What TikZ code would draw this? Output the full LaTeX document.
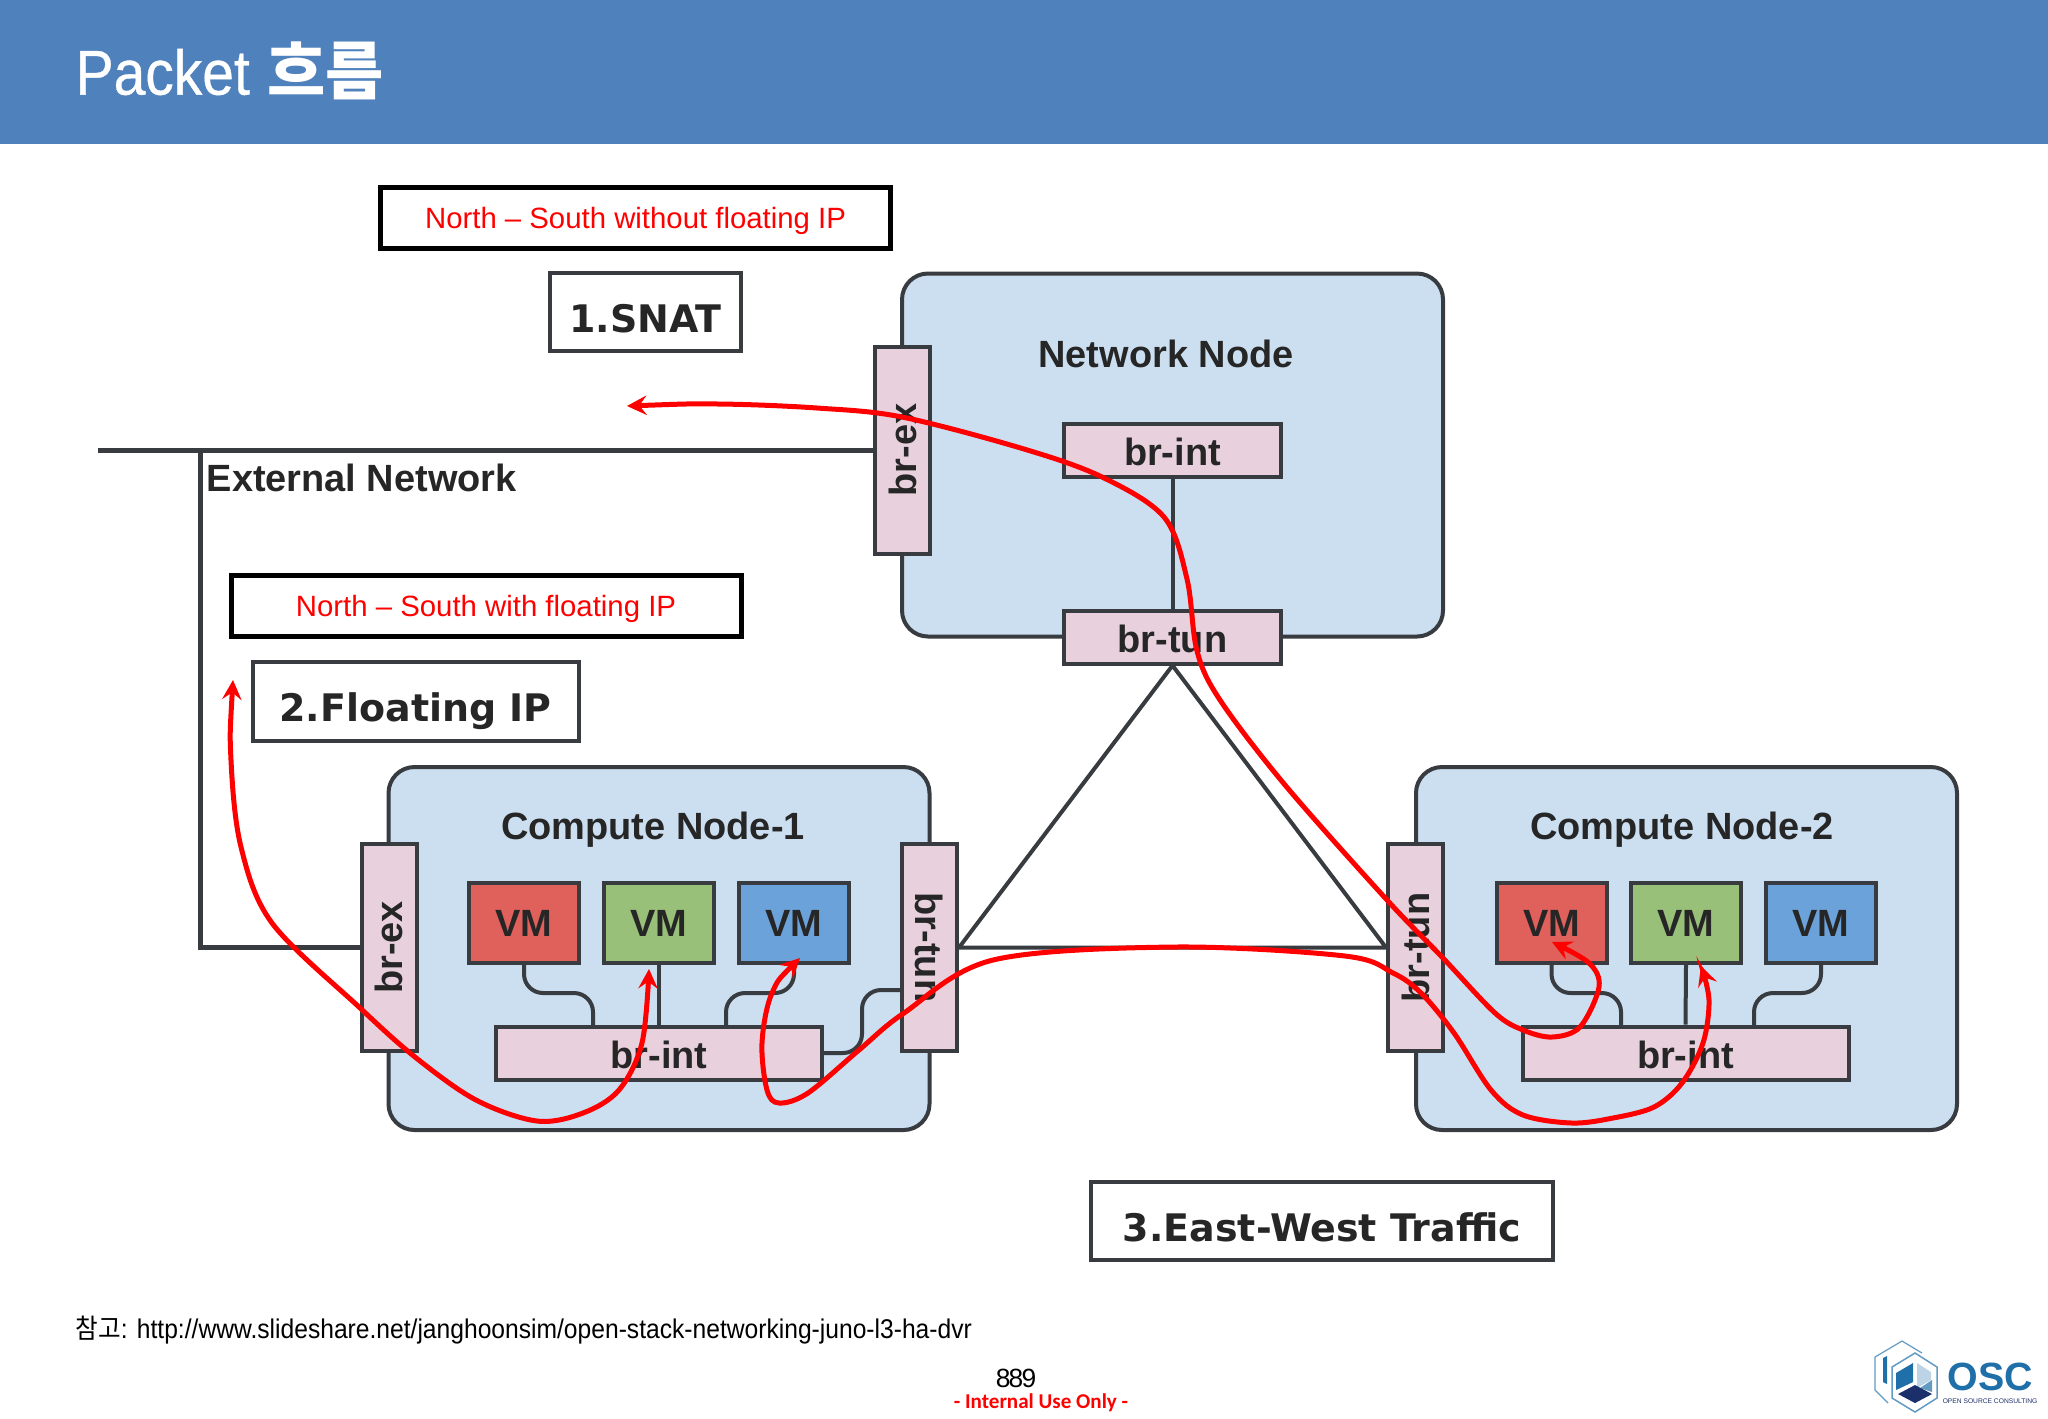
\documentclass[tikz,border=0pt]{standalone}
\usepackage{fontspec}
\setmainfont{Liberation Sans}
\newfontfamily\cjk{Noto Sans CJK KR}
\newfontfamily\slab{DejaVu Sans}
\newfontfamily\carlito{Carlito}
\newfontfamily\headfont{Liberation Sans}[FakeBold=0.6]
\usepackage{graphicx}
\definecolor{headblue}{HTML}{4F81BD}
\definecolor{hostblue}{HTML}{CBDFF1}
\definecolor{brpink}{HTML}{E8D1DD}
\definecolor{linegrey}{HTML}{383C40}
\definecolor{vmred}{HTML}{E0605C}
\definecolor{vmgreen}{HTML}{98C078}
\definecolor{vmblue}{HTML}{6CA2DA}
\definecolor{logoblue}{HTML}{1F6FA8}
\definecolor{logonavy}{HTML}{1B2F6B}
\tikzset{
  host/.style={draw=linegrey,fill=hostblue,line width=0.4mm,rounded corners=2.6mm,inner sep=0pt,minimum width=54.1mm,minimum height=36.3mm},
  bridge/.style={draw=linegrey,fill=brpink,line width=0.4mm,inner sep=0pt,font=\fontsize{10.8}{12}\selectfont\bfseries,text=black!85},
  brh/.style={bridge,minimum width=21.7mm,minimum height=5.3mm,text height=3.05mm,text depth=0pt},
  brl/.style={bridge,minimum width=32.6mm,minimum height=5.3mm,text height=3.05mm,text depth=0pt},
  brv/.style={bridge,minimum width=5.5mm,minimum height=20.7mm},
  vm/.style={draw=linegrey,line width=0.4mm,inner sep=0pt,minimum width=11mm,minimum height=8mm,font=\fontsize{10.8}{12}\selectfont\bfseries,text=black!85},
  title/.style={font=\fontsize{10.8}{12}\selectfont\bfseries,text=black!85},
  note/.style={draw=black,line width=0.5mm,inner sep=0pt,minimum height=6.1mm,minimum width=51mm,text=red,font=\fontsize{8.35}{10}\selectfont,text height=2.8mm,text depth=0.6mm},
  case/.style={draw=linegrey,fill=white,line width=0.4mm,inner sep=0pt,font=\fontsize{10.8}{12}\slab\bfseries,text=black!85,text height=4.6mm,text depth=0.5mm},
  wire/.style={draw=linegrey,line width=0.4mm,rounded corners=1.9mm},
  extwire/.style={draw=linegrey,line width=0.5mm},
  flow/.style={draw=red,line width=0.5mm,stealth-stealth,smooth,tension=0.55}
}
\begin{document}
\begin{tikzpicture}[x=0.1mm,y=-0.1mm]
  \useasboundingbox (0,0) rectangle (2048,1418);
  \node[fill=headblue,inner sep=0pt,minimum width=204.8mm,minimum height=14.4mm] (header) at (1024,72) {};
  \node[anchor=west,inner sep=0pt,text=white,font=\fontsize{18}{20}\selectfont] (headtitle) at (75,71) {\scalebox{0.9}[1]{\headfont Packet} {\cjk\bfseries 흐름}};

  % hosts
  \node[host] (hostN) at (1172.5,455) {};
  \node[host] (hostA) at (659,948.5) {};
  \node[host] (hostB) at (1686.5,948.5) {};

  \node[title] (nameN) at (1166,354) {Network Node};
  \node[title] (nameA) at (653,830) {Compute Node-1};
  \node[title] (nameB) at (1682,830) {Compute Node-2};

  % network node
  \node[brh] (intN) at (1172.5,450.5) {br-int};
  \node[brh] (tunN) at (1172.5,637) {br-tun};
  \node[brv] (exN) at (902.5,450) {\rotatebox{90}{br-ex}};

  % compute node 1
  \node[brv] (exA) at (389,947.5) {\rotatebox{90}{br-ex}};
  \node[brv] (tunA) at (929.5,947.5) {\rotatebox{-90}{br-tun}};
  \node[vm,fill=vmred] (vmAr) at (524,923) {VM};
  \node[vm,fill=vmgreen] (vmAg) at (659,923) {VM};
  \node[vm,fill=vmblue] (vmAb) at (794,923) {VM};
  \node[brl] (intA) at (659,1053) {br-int};

  % compute node 2
  \node[brv] (tunB) at (1415.5,947.5) {\rotatebox{90}{br-tun}};
  \node[vm,fill=vmred] (vmBr) at (1551.5,923) {VM};
  \node[vm,fill=vmgreen] (vmBg) at (1686,923) {VM};
  \node[vm,fill=vmblue] (vmBb) at (1821,923) {VM};
  \node[brl] (intB) at (1685.5,1053) {br-int};

  % texts outside the hosts
  \node[note] (noteS) at (635.5,217.5) {North – South without floating IP};
  \node[note] (noteF) at (486,605.5) {North – South with floating IP};
  \node[case,minimum width=19.1mm,minimum height=7.8mm] (snat) at (645.5,312) {1.SNAT};
  \node[case,minimum width=32.6mm,minimum height=7.9mm] (fip) at (415.5,701) {2.Floating IP};
  \node[case,minimum width=46.2mm,minimum height=7.8mm] (ew) at (1322,1221) {3.East-West Traffic};
  \node[anchor=west,inner sep=0pt,title] (extname) at (206,478) {External Network};

  \coordinate (extL) at (98,450);
  \coordinate (extD) at (200,450);
  \draw[extwire] (extL) -- (exN.west);
  \draw[extwire] (exA.west) -| (extD);
  \draw[wire] (intN.south) -- (tunN.north);
  \draw[wire,rounded corners=0pt,line join=round] (tunN.south) -- (tunA.east) -- (tunB.west) -- cycle;

  % wires in the hosts
  \coordinate (dropAr) at (593,1027);
  \coordinate (dropAb) at (726,1027);
  \coordinate (dropBr) at (1621,1027);
  \coordinate (dropBb) at (1754,1027);
  \coordinate (portA) at (902,990);
  \draw[wire] (vmAr.south) |- (593,993) -- (dropAr);
  \draw[wire] (vmAg.south) -- (intA.north);
  \draw[wire] (vmAb.south) |- (726,993) -- (dropAb);
  \draw[wire] (intA.east) -| (862,990) -- (portA);
  \draw[wire] (vmBr.south) |- (1621,993) -- (dropBr);
  \draw[wire] (vmBg.south) -- (intB.north);
  \draw[wire] (vmBb.south) |- (1754,993) -- (dropBb);

  % packet paths
  \coordinate (snatA) at (627,406);
  \coordinate (snatB) at (1552,942);
  \coordinate (fipA) at (233,680);
  \coordinate (fipB) at (649,969);
  \coordinate (ewA) at (800,958);
  \coordinate (ewB) at (1701,966);
  \draw[flow] plot coordinates {(snatA) (719,404) (817,408) (902,417) (1024,449) (1102,477) (1164,517) (1187,579) (1197,651) (1220,700) (1285,785) (1387,900) (1442,957) (1495,1013) (1523,1030) (1552,1037) (1580,1027) (1599,987) (1589,963) (snatB)};
  \draw[flow] plot coordinates {(fipA) (231,760) (241,847) (272,923) (359,1007) (415,1057) (476,1100) (537,1121) (583,1113) (619,1090) (642,1043) (fipB)};
  \draw[flow] plot coordinates {(ewA) (772,993) (762,1043) (767,1090) (779,1103) (808,1093) (859,1050) (904,1013) (993,960) (1175,947) (1345,956) (1393,973) (1421,993) (1454,1033) (1491,1090) (1523,1115) (1572,1123) (1613,1118) (1654,1107) (1682,1083) (1703,1043) (1709,1000) (ewB)};

  % footer
  \node[anchor=west,inner sep=0pt,xscale=0.91,font=\fontsize{7.7}{9}\selectfont] (source) at (75,1330) {{\cjk 참고}: http://www.slideshare.net/janghoonsim/open-stack-networking-juno-l3-ha-dvr};
  \node[font=\fontsize{7.5}{8}\selectfont] (page) at (1016,1378) {8\kern-0.5pt8\kern-0.5pt9};
  \node[text=red,font=\fontsize{6}{8}\carlito\bfseries] (internal) at (1041,1403) {- Internal Use Only -};

  % logo
  \draw[logoblue!70,line width=0.12mm] (1922,1353) -- (1902,1341) -- (1875,1357) -- (1875,1390) -- (1888,1403);
  \draw[logoblue!70,line width=0.15mm] (1915,1353) -- (1937,1367) -- (1937,1398) -- (1915,1412) -- (1892,1398) -- (1892,1367) -- cycle;
  \fill[logoblue] (1883,1358) -- (1887,1356) -- (1887,1384) -- (1883,1382) -- cycle;
  \fill[logoblue] (1913,1363) -- (1896,1373) -- (1896,1390) -- (1913,1382) -- cycle;
  \fill[logoblue!30] (1917,1363) -- (1931,1372) -- (1931,1380) -- (1917,1388) -- cycle;
  \fill[logoblue!70] (1920,1388) -- (1932,1380) -- (1932,1392) -- cycle;
  \fill[logonavy] (1898,1394) -- (1915,1385) -- (1932,1394) -- (1915,1403) -- cycle;
  \node[text=logoblue,font=\fontsize{11.2}{12}\selectfont\bfseries,inner sep=0pt] (logoname) at (1990,1377) {OSC};
  \node[text=logonavy,font=\fontsize{1.9}{2}\selectfont,inner sep=0pt] (logosub) at (1990,1401) {OPEN SOURCE CONSULTING};
\end{tikzpicture}
\end{document}
